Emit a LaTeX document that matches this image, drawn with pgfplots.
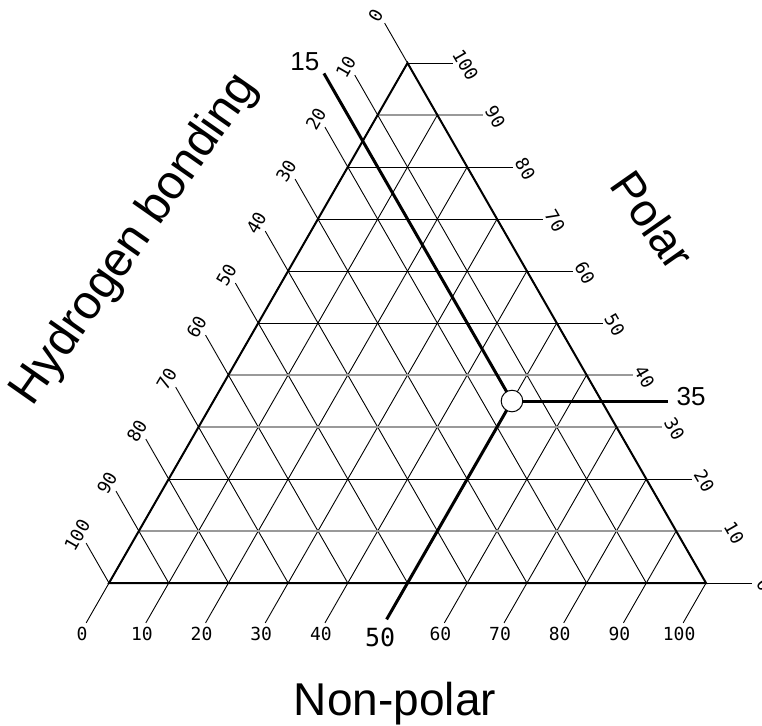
\documentclass[border=0pt]{standalone}
\usepackage{fontspec}
\setmainfont{Liberation Sans}
\newfontfamily\tickfont{DejaVu Sans Mono}
\usepackage{pgfplots}
\usepackage{pgfplotstable}
\pgfplotsset{compat=1.18}

% ternary (N = non-polar, P = polar, H = 100-N-P) -> cartesian
% u = N/100 + P/200, v = P/100
\pgfplotstableread[row sep=\\]{
N P \\
50 35 \\
}\sample
\pgfplotstableread[row sep=\\]{
N P \\
50 35 \\
-13 98 \\
}\hbline
\pgfplotstableread[row sep=\\]{
N P \\
50 35 \\
76.1 35 \\
}\poline
\pgfplotstableread[row sep=\\]{
N P \\
50 35 \\
50 -7 \\
}\npline

\def\du{0.0383}
\def\dv{0.0767}
\tikzset{tl/.style={font=\tickfont\fontsize{18}{18}\selectfont}}

\begin{document}
\begin{tikzpicture}
\begin{axis}[
    x=597pt, y=520pt,
    xmin=-0.1826, xmax=1.0938,
    ymin=-0.2731, ymax=1.1212,
    hide axis, clip=false,
]
% grid lines and ticks
\pgfplotsinvokeforeach{0,10,20,30,40,50,60,70,80,90,100}{
  % polar = const (horizontal)
  \draw[black, line width=0.9pt] (axis cs:{#1/200},{#1/100}) -- (axis cs:{1-#1/200+0.077},{#1/100})
     node[tl, xshift=12pt, yshift=-2pt, rotate=-60] {#1};
  % hydrogen bonding = const (parallel to right side)
  \draw[black, line width=0.9pt] (axis cs:{(100-#1)/100},0) -- (axis cs:{(100-#1)/200},{(100-#1)/100})
     -- (axis cs:{(100-#1)/200-\du},{(100-#1)/100+\dv})
     node[tl, xshift=-9pt, yshift=8pt, rotate=60] {#1};
}
% non-polar = const (parallel to left side)
\pgfplotsinvokeforeach{0,10,20,30,40,60,70,80,90,100}{
  \draw[black, line width=0.9pt] (axis cs:{#1/100+(100-#1)/200},{(100-#1)/100}) -- (axis cs:{#1/100},0)
     -- (axis cs:{#1/100-\du},{-\dv})
     node[tl, xshift=-4pt, yshift=-11pt] {#1};
}
\draw[black, line width=0.9pt] (axis cs:0.75,0.5) -- (axis cs:0.5,0);
\pgfplotsinvokeforeach{10,30,40,90}{
  \draw[black!40, line width=1.3pt] (axis cs:{#1/200},{#1/100}) -- (axis cs:{1-#1/200+0.077},{#1/100});
}
% triangle
\draw[black, line width=2pt, line join=miter] (axis cs:0,0) -- (axis cs:1,0) -- (axis cs:0.5,1) -- cycle;

% sample composition
\addplot[black, line width=3pt] table[x expr=\thisrow{N}/100+\thisrow{P}/200, y expr=\thisrow{P}/100] {\hbline};
\addplot[black, line width=3pt] table[x expr=\thisrow{N}/100+\thisrow{P}/200, y expr=\thisrow{P}/100] {\poline};
\addplot[black, line width=3pt] table[x expr=\thisrow{N}/100+\thisrow{P}/200, y expr=\thisrow{P}/100] {\npline};
\addplot[only marks, mark=*, mark size=10.8pt, mark options={fill=white, draw=black, line width=1pt}]
  table[x expr=\thisrow{N}/100+\thisrow{P}/200, y expr=\thisrow{P}/100] {\sample};

\node[font=\fontsize{26}{26}\selectfont] at (axis cs:0.328,1.002) {15};
\node[font=\fontsize{26}{26}\selectfont] at (axis cs:0.975,0.358) {35};
\node[font=\tickfont\fontsize{25}{25}\selectfont] at (axis cs:0.454,-0.104) {50};

\node[font=\fontsize{46}{50}\selectfont] at (axis cs:0.479,-0.231) {Non-polar};
\node[font=\fontsize{48}{52}\selectfont, rotate=55] at (axis cs:0.0436,0.6596) {Hydrogen bonding};
\node[font=\fontsize{46}{50}\selectfont, rotate=-55] at (axis cs:0.911,0.698) {Polar};
\end{axis}
\pgfresetboundingbox
\path (current axis.south west) rectangle (current axis.north east);
\end{tikzpicture}
\end{document}
